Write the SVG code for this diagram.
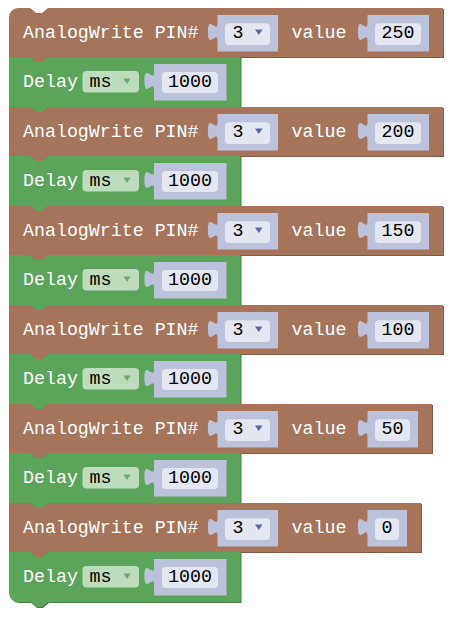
<svg xmlns="http://www.w3.org/2000/svg" width="463" height="622" viewBox="0 0 463 622">
<style>
  .bg{fill:#ffffff}
  .brown{fill:#a5745b}
  .brown-dark{fill:#7f5a47}
  .green{fill:#5ba55b}
  .green-dark{fill:#467f46}
  .sbox{fill:#bdc2db}
  .sbox-dark{fill:#9095ae}
  .sfield{fill:#e4e6f0}
  .gfield{fill:#bddbbd}
  .tri-b{fill:#5b67a5}
  .tri-g{fill:#6aad6a}
  text{font-family:"Liberation Mono","DejaVu Sans Mono",monospace;font-size:18.3px}
  .lbl{fill:#ffffff}
  .val{fill:#000000}
  .mid{text-anchor:middle}
</style>
<defs>
  <!-- dropdown box with output tab, origin at box top-left -->
  <path id="pinbox" d="M0,0 V8 c0,12 -9.6,-9.6 -9.6,9 s9.6,-3 9.6,9 V36.5 H60.5 V0 Z"/>
  <path id="delaybox" d="M0,0 V8 c0,12 -9.6,-9.6 -9.6,9 s9.6,-3 9.6,9 V36.5 H72.5 V0 Z"/>
  <path id="valbox3" d="M0,0 V8 c0,12 -9.6,-9.6 -9.6,9 s9.6,-3 9.6,9 V36.5 H61.5 V0 Z"/>
  <path id="valbox2" d="M0,0 V8 c0,12 -9.6,-9.6 -9.6,9 s9.6,-3 9.6,9 V36.5 H50.5 V0 Z"/>
  <path id="valbox1" d="M0,0 V8 c0,12 -9.6,-9.6 -9.6,9 s9.6,-3 9.6,9 V36.5 H39.5 V0 Z"/>
  <!-- brown AnalogWrite header fields, origin at block top-left (x=0 => 9) -->
</defs>
<rect class="bg" x="0" y="0" width="463" height="622"/>
<g id="connectors"/>

<!-- Pair 1 -->
<g id="analogwrite-250">
  <path class="brown-dark" transform="translate(1,1)" d="M9,17 A9,9 0 0 1 18,8 H30 l6,5 h6 l6,-5 H443 V57 H48 l-6,5 h-6 l-6,-5 H9 Z"/>
  <path class="brown" d="M9,17 A9,9 0 0 1 18,8 H30 l6,5 h6 l6,-5 H443 V57 H48 l-6,5 h-6 l-6,-5 H9 Z"/>
  <text class="lbl" x="23" y="38">AnalogWrite PIN#</text>
  <use href="#pinbox" class="sbox" x="217.5" y="15"/>
  <rect class="sfield" x="225" y="23.3" width="45" height="21.7" rx="4"/>
  <text class="val" x="232.5" y="38">3</text>
  <polygon class="tri-b" points="255,29.5 262.5,29.5 258.75,35"/>
  <text class="lbl" x="291.5" y="38">value</text>
  <use href="#valbox3" class="sbox" x="367.5" y="15"/>
  <rect class="sfield" x="375" y="23.3" width="46" height="21.7" rx="4"/>
  <text class="val mid" x="398" y="38">250</text>
</g>
<g id="delay-1">
  <path class="green-dark" transform="translate(1,1)" d="M9,57 H30 l6,5 h6 l6,-5 H240.5 V107 H48 l-6,5 h-6 l-6,-5 H9 Z"/>
  <path class="green" d="M9,57 H30 l6,5 h6 l6,-5 H240.5 V107 H48 l-6,5 h-6 l-6,-5 H9 Z"/>
  <text class="lbl" x="23" y="87">Delay</text>
  <rect class="gfield" x="82.5" y="71" width="56.5" height="21.5" rx="4"/>
  <text class="val" x="89.5" y="87">ms</text>
  <polygon class="tri-g" points="123.5,78.5 130.5,78.5 127,84"/>
  <use href="#delaybox" class="sbox" x="154" y="64"/>
  <rect class="sfield" x="162" y="72" width="56" height="21" rx="4"/>
  <text class="val mid" x="190" y="87">1000</text>
</g>

<!-- Pair 2 -->
<g id="analogwrite-200">
  <path class="brown-dark" transform="translate(1,1)" d="M9,107 H30 l6,5 h6 l6,-5 H443 V156 H48 l-6,5 h-6 l-6,-5 H9 Z"/>
  <path class="brown" d="M9,107 H30 l6,5 h6 l6,-5 H443 V156 H48 l-6,5 h-6 l-6,-5 H9 Z"/>
  <text class="lbl" x="23" y="137">AnalogWrite PIN#</text>
  <use href="#pinbox" class="sbox" x="217.5" y="114"/>
  <rect class="sfield" x="225" y="122.3" width="45" height="21.7" rx="4"/>
  <text class="val" x="232.5" y="137">3</text>
  <polygon class="tri-b" points="255,128.5 262.5,128.5 258.75,134"/>
  <text class="lbl" x="291.5" y="137">value</text>
  <use href="#valbox3" class="sbox" x="367.5" y="114"/>
  <rect class="sfield" x="375" y="122.3" width="46" height="21.7" rx="4"/>
  <text class="val mid" x="398" y="137">200</text>
</g>
<g id="delay-2">
  <path class="green-dark" transform="translate(1,1)" d="M9,156 H30 l6,5 h6 l6,-5 H240.5 V206 H48 l-6,5 h-6 l-6,-5 H9 Z"/>
  <path class="green" d="M9,156 H30 l6,5 h6 l6,-5 H240.5 V206 H48 l-6,5 h-6 l-6,-5 H9 Z"/>
  <text class="lbl" x="23" y="186">Delay</text>
  <rect class="gfield" x="82.5" y="170" width="56.5" height="21.5" rx="4"/>
  <text class="val" x="89.5" y="186">ms</text>
  <polygon class="tri-g" points="123.5,177.5 130.5,177.5 127,183"/>
  <use href="#delaybox" class="sbox" x="154" y="163"/>
  <rect class="sfield" x="162" y="171" width="56" height="21" rx="4"/>
  <text class="val mid" x="190" y="186">1000</text>
</g>

<!-- Pair 3 -->
<g id="analogwrite-150">
  <path class="brown-dark" transform="translate(1,1)" d="M9,206 H30 l6,5 h6 l6,-5 H443 V255 H48 l-6,5 h-6 l-6,-5 H9 Z"/>
  <path class="brown" d="M9,206 H30 l6,5 h6 l6,-5 H443 V255 H48 l-6,5 h-6 l-6,-5 H9 Z"/>
  <text class="lbl" x="23" y="236">AnalogWrite PIN#</text>
  <use href="#pinbox" class="sbox" x="217.5" y="213"/>
  <rect class="sfield" x="225" y="221.3" width="45" height="21.7" rx="4"/>
  <text class="val" x="232.5" y="236">3</text>
  <polygon class="tri-b" points="255,227.5 262.5,227.5 258.75,233"/>
  <text class="lbl" x="291.5" y="236">value</text>
  <use href="#valbox3" class="sbox" x="367.5" y="213"/>
  <rect class="sfield" x="375" y="221.3" width="46" height="21.7" rx="4"/>
  <text class="val mid" x="398" y="236">150</text>
</g>
<g id="delay-3">
  <path class="green-dark" transform="translate(1,1)" d="M9,255 H30 l6,5 h6 l6,-5 H240.5 V305 H48 l-6,5 h-6 l-6,-5 H9 Z"/>
  <path class="green" d="M9,255 H30 l6,5 h6 l6,-5 H240.5 V305 H48 l-6,5 h-6 l-6,-5 H9 Z"/>
  <text class="lbl" x="23" y="285">Delay</text>
  <rect class="gfield" x="82.5" y="269" width="56.5" height="21.5" rx="4"/>
  <text class="val" x="89.5" y="285">ms</text>
  <polygon class="tri-g" points="123.5,276.5 130.5,276.5 127,282"/>
  <use href="#delaybox" class="sbox" x="154" y="262"/>
  <rect class="sfield" x="162" y="270" width="56" height="21" rx="4"/>
  <text class="val mid" x="190" y="285">1000</text>
</g>

<!-- Pair 4 -->
<g id="analogwrite-100">
  <path class="brown-dark" transform="translate(1,1)" d="M9,305 H30 l6,5 h6 l6,-5 H443 V354 H48 l-6,5 h-6 l-6,-5 H9 Z"/>
  <path class="brown" d="M9,305 H30 l6,5 h6 l6,-5 H443 V354 H48 l-6,5 h-6 l-6,-5 H9 Z"/>
  <text class="lbl" x="23" y="335">AnalogWrite PIN#</text>
  <use href="#pinbox" class="sbox" x="217.5" y="312"/>
  <rect class="sfield" x="225" y="320.3" width="45" height="21.7" rx="4"/>
  <text class="val" x="232.5" y="335">3</text>
  <polygon class="tri-b" points="255,326.5 262.5,326.5 258.75,332"/>
  <text class="lbl" x="291.5" y="335">value</text>
  <use href="#valbox3" class="sbox" x="367.5" y="312"/>
  <rect class="sfield" x="375" y="320.3" width="46" height="21.7" rx="4"/>
  <text class="val mid" x="398" y="335">100</text>
</g>
<g id="delay-4">
  <path class="green-dark" transform="translate(1,1)" d="M9,354 H30 l6,5 h6 l6,-5 H240.5 V404 H48 l-6,5 h-6 l-6,-5 H9 Z"/>
  <path class="green" d="M9,354 H30 l6,5 h6 l6,-5 H240.5 V404 H48 l-6,5 h-6 l-6,-5 H9 Z"/>
  <text class="lbl" x="23" y="384">Delay</text>
  <rect class="gfield" x="82.5" y="368" width="56.5" height="21.5" rx="4"/>
  <text class="val" x="89.5" y="384">ms</text>
  <polygon class="tri-g" points="123.5,375.5 130.5,375.5 127,381"/>
  <use href="#delaybox" class="sbox" x="154" y="361"/>
  <rect class="sfield" x="162" y="369" width="56" height="21" rx="4"/>
  <text class="val mid" x="190" y="384">1000</text>
</g>

<!-- Pair 5 -->
<g id="analogwrite-50">
  <path class="brown-dark" transform="translate(1,1)" d="M9,404 H30 l6,5 h6 l6,-5 H432 V453 H48 l-6,5 h-6 l-6,-5 H9 Z"/>
  <path class="brown" d="M9,404 H30 l6,5 h6 l6,-5 H432 V453 H48 l-6,5 h-6 l-6,-5 H9 Z"/>
  <text class="lbl" x="23" y="434">AnalogWrite PIN#</text>
  <use href="#pinbox" class="sbox" x="217.5" y="411"/>
  <rect class="sfield" x="225" y="419.3" width="45" height="21.7" rx="4"/>
  <text class="val" x="232.5" y="434">3</text>
  <polygon class="tri-b" points="255,425.5 262.5,425.5 258.75,431"/>
  <text class="lbl" x="291.5" y="434">value</text>
  <use href="#valbox2" class="sbox" x="367.5" y="411"/>
  <rect class="sfield" x="375" y="419.3" width="35" height="21.7" rx="4"/>
  <text class="val mid" x="392.5" y="434">50</text>
</g>
<g id="delay-5">
  <path class="green-dark" transform="translate(1,1)" d="M9,453 H30 l6,5 h6 l6,-5 H240.5 V503 H48 l-6,5 h-6 l-6,-5 H9 Z"/>
  <path class="green" d="M9,453 H30 l6,5 h6 l6,-5 H240.5 V503 H48 l-6,5 h-6 l-6,-5 H9 Z"/>
  <text class="lbl" x="23" y="483">Delay</text>
  <rect class="gfield" x="82.5" y="467" width="56.5" height="21.5" rx="4"/>
  <text class="val" x="89.5" y="483">ms</text>
  <polygon class="tri-g" points="123.5,474.5 130.5,474.5 127,480"/>
  <use href="#delaybox" class="sbox" x="154" y="460"/>
  <rect class="sfield" x="162" y="468" width="56" height="21" rx="4"/>
  <text class="val mid" x="190" y="483">1000</text>
</g>

<!-- Pair 6 -->
<g id="analogwrite-0">
  <path class="brown-dark" transform="translate(1,1)" d="M9,503 H30 l6,5 h6 l6,-5 H421 V552 H48 l-6,5 h-6 l-6,-5 H9 Z"/>
  <path class="brown" d="M9,503 H30 l6,5 h6 l6,-5 H421 V552 H48 l-6,5 h-6 l-6,-5 H9 Z"/>
  <text class="lbl" x="23" y="533">AnalogWrite PIN#</text>
  <use href="#pinbox" class="sbox" x="217.5" y="510"/>
  <rect class="sfield" x="225" y="518.3" width="45" height="21.7" rx="4"/>
  <text class="val" x="232.5" y="533">3</text>
  <polygon class="tri-b" points="255,524.5 262.5,524.5 258.75,530"/>
  <text class="lbl" x="291.5" y="533">value</text>
  <use href="#valbox1" class="sbox" x="367.5" y="510"/>
  <rect class="sfield" x="375" y="518.3" width="24" height="21.7" rx="4"/>
  <text class="val mid" x="387" y="533">0</text>
</g>
<g id="delay-6">
  <path class="green-dark" transform="translate(1,1)" d="M9,552 H30 l6,5 h6 l6,-5 H240.5 V602 H48 l-6,5 h-6 l-6,-5 H18 A9,9 0 0 1 9,593 Z"/>
  <path class="green" d="M9,552 H30 l6,5 h6 l6,-5 H240.5 V602 H48 l-6,5 h-6 l-6,-5 H18 A9,9 0 0 1 9,593 Z"/>
  <text class="lbl" x="23" y="582">Delay</text>
  <rect class="gfield" x="82.5" y="566" width="56.5" height="21.5" rx="4"/>
  <text class="val" x="89.5" y="582">ms</text>
  <polygon class="tri-g" points="123.5,573.5 130.5,573.5 127,579"/>
  <use href="#delaybox" class="sbox" x="154" y="559"/>
  <rect class="sfield" x="162" y="567" width="56" height="21" rx="4"/>
  <text class="val mid" x="190" y="582">1000</text>
</g>
</svg>
